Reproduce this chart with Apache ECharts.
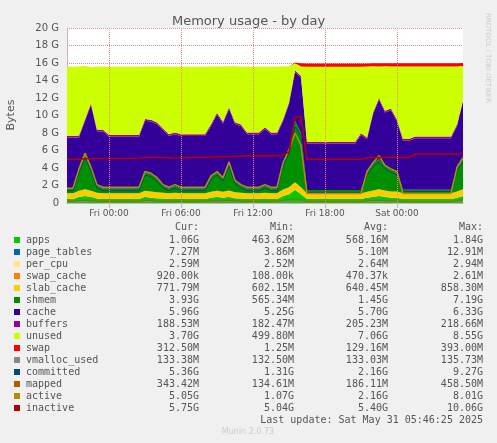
<!DOCTYPE html><html><head><meta charset="utf-8">
<script src="https://cdn.jsdelivr.net/npm/echarts@6/dist/echarts.min.js"></script>
<style>html,body{margin:0;background:#f0f0f0}#c{width:497px;height:443px}</style></head><body><div id="c"></div>
<script>
const hours=[-3.5,-3,-2.5,-2,-1.5,-1,-0.5,0,0.5,1,1.5,2,2.5,3,3.5,4,4.5,5,5.5,6,6.5,7,7.5,8,8.5,9,9.5,10,10.5,11,11.5,12,12.5,13,13.5,14,14.5,15,15.5,16,16.5,17,17.5,18,18.5,19,19.5,20,20.5,21,21.5,22,22.5,23,23.5,24,24.5,25,25.5,26,26.5,27,27.5,28,28.5,29,29.5];
const tickHours=[0,6,12,18,24];
const tickLabels=['Fri 00:00','Fri 06:00','Fri 12:00','Fri 18:00','Sat 00:00'];
const apps=[.45,.45,.7,.8,.7,.5,.45,.45,.45,.45,.45,.45,.45,.7,.6,.55,.5,.45,.5,.45,.45,.45,.45,.45,.6,.7,.6,.7,.55,.5,.45,.45,.45,.5,.45,.45,.8,1.0,1.5,1.0,.45,.45,.45,.45,.45,.45,.45,.45,.45,.45,.6,.7,.8,.7,.6,.6,.45,.45,.45,.45,.45,.45,.45,.45,.45,.6,.8];
const pageTables=apps.map(()=>0.007);
const perCpu=apps.map(()=>0.003);
const swapCache=apps.map(()=>0.001);
const slabCache=[.65,.65,.7,.75,.7,.65,.65,.65,.65,.65,.65,.65,.65,.7,.7,.68,.65,.65,.66,.65,.65,.65,.65,.65,.68,.7,.68,.72,.68,.66,.65,.65,.65,.66,.65,.65,.72,.8,.85,.8,.62,.62,.62,.62,.62,.62,.62,.62,.62,.62,.68,.72,.75,.72,.7,.7,.65,.65,.65,.65,.65,.65,.65,.65,.65,.7,.75];
const shmem=[.55,.55,2.4,4.0,2.5,.85,.55,.55,.55,.55,.55,.55,.55,2.1,2.0,1.55,.85,.55,.8,.55,.55,.55,.55,.55,1.7,2.1,1.5,3.1,1.3,.8,.55,.55,.55,.8,.55,.55,3.0,4.2,7.0,6.2,.4,.4,.4,.4,.4,.4,.4,.4,.4,.4,2.2,3.1,3.45,2.8,2.5,2.2,.4,.4,.4,.4,.4,.4,.4,.4,.4,2.7,3.5];
const cache=[5.8,5.8,3.7,3.8,7.3,6.2,6.5,5.9,5.9,5.9,5.9,5.9,5.9,5.9,6.0,6.2,6.3,6.0,5.9,6.0,6.0,6.0,6.0,6.0,5.8,6.6,6.3,6.2,6.5,6.8,6.2,6.2,6.2,6.5,6.2,6.2,4.8,5.3,5.6,6.3,5.3,5.3,5.3,5.3,5.3,5.3,5.3,5.3,5.3,6.3,3.8,5.6,6.8,6.1,6.8,5.8,5.6,5.6,5.9,5.9,5.9,5.9,5.9,5.9,5.9,4.8,6.6];
const buffers=apps.map(()=>0.2);
const unused=[7.9,7.9,7.9,6.1,4.1,7.2,7.2,7.8,7.8,7.8,7.8,7.8,7.8,6.0,6.1,6.4,7.1,7.7,7.5,7.7,7.7,7.7,7.7,7.7,6.6,5.3,6.3,4.7,6.4,6.6,7.5,7.5,7.5,6.9,7.5,7.5,6.1,4.1,0.8,1.1,8.6,8.6,8.6,8.6,8.6,8.6,8.6,8.6,8.6,7.6,8.1,5.3,3.6,5.1,4.8,6.1,8.3,8.3,8.0,8.0,8.0,8.0,8.0,8.0,8.0,6.6,3.8];
const swap=[0,0,0,0,0,0,0,0,0,0,0,0,0,0,0,0,0,0,0,0,0,0,0,0,0,0,0,0,0,0,0,0,0,0,0,0,0,0,.1,.35,.35,.35,.35,.35,.35,.35,.35,.35,.35,.35,.35,.35,.35,.35,.35,.35,.35,.35,.35,.35,.35,.35,.35,.35,.35,.35,.35];
const vmalloc=apps.map(()=>0.133);
const committed=[1.4,1.4,3.5,5.2,3.7,1.7,1.4,1.4,1.4,1.4,1.4,1.4,1.4,3.2,3.0,2.5,1.7,1.4,1.7,1.4,1.4,1.4,1.4,1.4,2.7,3.2,2.5,4.2,2.2,1.7,1.4,1.4,1.4,1.7,1.4,1.4,4.2,5.7,8.7,7.7,1.2,1.2,1.2,1.2,1.2,1.2,1.2,1.2,1.2,1.2,3.2,4.2,4.7,3.9,3.5,3.2,1.3,1.3,1.3,1.3,1.3,1.3,1.3,1.3,1.3,3.7,4.7];
const mapped=[.2,.2,.3,.3,.3,.2,.2,.2,.2,.2,.2,.2,.2,.3,.3,.2,.2,.2,.2,.2,.2,.2,.2,.2,.25,.3,.25,.3,.25,.2,.2,.2,.2,.2,.2,.2,.3,.4,.45,.4,.15,.15,.15,.15,.15,.15,.15,.15,.15,.15,.25,.3,.3,.3,.25,.25,.15,.15,.15,.15,.15,.15,.15,.15,.15,.3,.34];
const active=[1.7,1.7,3.9,5.7,4.1,2.1,1.8,1.8,1.8,1.8,1.8,1.8,1.8,3.6,3.4,2.9,2.1,1.8,2.1,1.8,1.8,1.8,1.8,1.8,3.1,3.6,2.9,4.7,2.6,2.1,1.8,1.8,1.8,2.1,1.8,1.8,4.6,6.1,8.0,6.6,1.1,1.1,1.1,1.1,1.1,1.1,1.1,1.1,1.1,1.1,3.6,4.6,5.4,4.3,3.9,3.6,1.1,1.1,1.1,1.1,1.1,1.1,1.1,1.1,1.1,4.1,5.2];
const inactive=[5.0,5.0,5.0,5.05,5.1,5.1,5.1,5.1,5.1,5.1,5.1,5.1,5.1,5.2,5.2,5.2,5.2,5.2,5.1,5.2,5.2,5.2,5.2,5.2,5.25,5.3,5.3,5.3,5.35,5.35,5.4,5.4,5.4,5.4,5.4,5.4,5.5,5.8,9.8,9.9,5.0,5.0,5.0,5.0,5.0,5.0,5.0,5.0,5.0,5.0,5.2,5.2,5.2,5.2,5.2,5.2,5.2,5.2,5.6,5.6,5.6,5.6,5.6,5.6,5.6,5.6,5.7];
const legNames=['apps','page_tables','per_cpu','swap_cache','slab_cache','shmem','cache','buffers','unused','swap','vmalloc_used','committed','mapped','active','inactive'];
const legColors=['#00CC00','#0066B3','#FFE680','#FF8000','#FFCC00','#008F00','#330099','#990099','#CCFF00','#FF0000','#888888','#00487D','#B35A00','#B38F00','#B30000'];
const legCur=['1.06G','7.27M','2.59M','920.00k','771.79M','3.93G','5.96G','188.53M','3.70G','312.50M','133.38M','5.36G','343.42M','5.05G','5.75G'];
const legMin=['463.62M','3.86M','2.52M','108.00k','602.15M','565.34M','5.25G','182.47M','499.80M','1.25M','132.50M','1.31G','134.61M','1.07G','5.04G'];
const legAvg=['568.16M','5.10M','2.64M','470.37k','640.45M','1.45G','5.70G','205.23M','7.06G','129.16M','133.03M','2.16G','186.11M','2.16G','5.40G'];
const legMax=['1.84G','12.91M','2.94M','2.61M','858.30M','7.19G','6.33G','218.66M','8.55G','393.00M','135.73M','9.27G','458.50M','8.01G','10.06G'];

const stackNames=['apps','page_tables','per_cpu','swap_cache','slab_cache','shmem','cache','buffers','unused','swap'];
const stackData=[apps,pageTables,perCpu,swapCache,slabCache,shmem,cache,buffers,unused,swap];
const series=stackNames.map((n,i)=>({name:n,type:'line',stack:'m',data:stackData[i],symbol:'none',
  lineStyle:{width:0,color:legColors[i]},areaStyle:{color:legColors[i],opacity:1},itemStyle:{color:legColors[i]},z:2}));
const lineNames=['vmalloc_used','committed','mapped','active','inactive'];
const lineData=[vmalloc,committed,mapped,active,inactive];
lineNames.forEach((n,i)=>series.push({name:n,type:'line',data:lineData[i],symbol:'none',lineStyle:{width:n==='inactive'||n==='active'?1.5:1,color:legColors[10+i]},z:3}));

const mono='DejaVu Sans Mono';
const g=[];
[['Cur:',199],['Min:',294],['Avg:',388],['Max:',483]].forEach(([t,x])=>g.push({type:'text',x:x,y:227,style:{text:t,font:'10px '+mono,fill:'#555',align:'right',verticalAlign:'middle'}}));
legNames.forEach((n,i)=>{const y=240+12*i;
 g.push({type:'rect',shape:{x:14,y:y-3,width:6,height:6},style:{fill:legColors[i]}});
 g.push({type:'text',x:26,y:y,style:{text:n,font:'10px '+mono,fill:'#555',verticalAlign:'middle'}});
 [[legCur,199],[legMin,294],[legAvg,388],[legMax,483]].forEach(([arr,x])=>g.push({type:'text',x:x,y:y,style:{text:arr[i],font:'10px '+mono,fill:'#555',align:'right',verticalAlign:'middle'}}));
});
g.push({type:'text',x:483,y:420,style:{text:'Last update: Sat May 31 05:46:25 2025',font:'10px '+mono,fill:'#555',align:'right',verticalAlign:'middle'}});
g.push({type:'text',x:248,y:432,style:{text:'Munin 2.0.73',font:'8px DejaVu Sans',fill:'#ccc',align:'center',verticalAlign:'middle'}});
g.push({type:'text',x:488,y:58,rotation:-Math.PI/2,style:{text:'RRDTOOL / TOBI OETIKER',font:'7px DejaVu Sans',fill:'#ccc',align:'center',verticalAlign:'middle'}});
g.push({type:'text',x:11,y:115,rotation:Math.PI/2,style:{text:'Bytes',font:'11px DejaVu Sans',fill:'#555',align:'center',verticalAlign:'middle'}});

const isTick=(idx)=>tickHours.includes(hours[idx]);
const ch=echarts.init(document.getElementById('c'));
ch.setOption({animation:false,backgroundColor:'#f0f0f0',
 title:{text:'Memory usage - by day',left:'center',top:10,textStyle:{fontFamily:'DejaVu Sans',fontSize:13,fontWeight:'normal',color:'#555'}},
 grid:{left:67,right:34,top:28,bottom:240,show:true,backgroundColor:'#fff',borderWidth:0},
 xAxis:{type:'category',data:hours,boundaryGap:false,
  axisLine:{lineStyle:{color:'#bbb'}},axisTick:{show:true,interval:isTick,lineStyle:{color:'#bbb'}},
  axisLabel:{interval:isTick,formatter:v=>tickLabels[tickHours.indexOf(Number(v))],fontFamily:'DejaVu Sans',fontSize:9,color:'#555',margin:6},
  splitLine:{show:true,interval:isTick,lineStyle:{color:'#e88',type:'dotted'}},z:5},
 yAxis:{type:'value',min:0,max:20,interval:2,
  axisLine:{show:true,lineStyle:{color:'#bbb'}},axisTick:{show:false},
  axisLabel:{formatter:v=>v===0?'0':v+' G',fontFamily:'DejaVu Sans',fontSize:10,color:'#555'},
  splitLine:{lineStyle:{color:'#e88',type:'dotted'}}},
 series:series,graphic:g});
</script></body></html>
